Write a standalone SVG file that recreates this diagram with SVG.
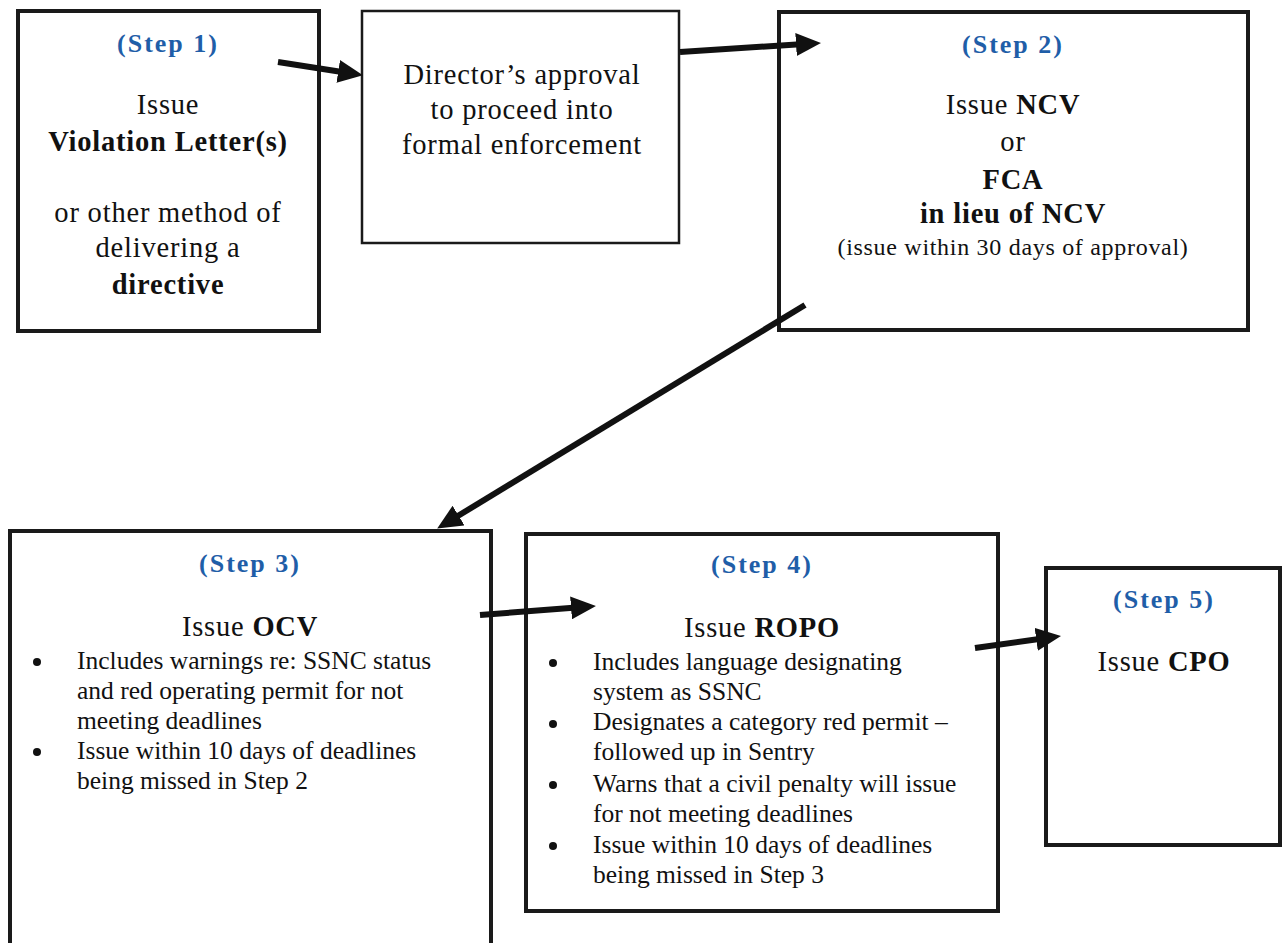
<svg xmlns="http://www.w3.org/2000/svg" width="1283" height="943" viewBox="0 0 1283 943">
<style>
.box{fill:#fff;stroke:#1a1a1a;stroke-width:4}
.thin{fill:#fff;stroke:#1a1a1a;stroke-width:2.5}
text{font-family:"Liberation Serif","Times New Roman",serif;fill:#111}
.step{font-size:26px;font-weight:bold;fill:#1f5ea8;letter-spacing:2px;text-anchor:middle}
.main{font-size:28.5px;letter-spacing:0.8px;text-anchor:middle}
.b{font-weight:bold}
.small{font-size:24px;letter-spacing:0.7px;text-anchor:middle}
.bul{font-size:25.5px}
.conn{stroke:#111;stroke-width:6;fill:none;marker-end:url(#ah)}
</style>
<defs>
<marker id="ah" markerUnits="userSpaceOnUse" markerWidth="25" markerHeight="23" refX="12" refY="11.5" orient="auto">
<path d="M0,0 L25,11.5 L0,23 z" fill="#111"/>
</marker>
</defs>
<rect width="1283" height="943" fill="#fff"/>
<g id="step1">
<rect class="box" x="18" y="11" width="301" height="320"/>
<text class="step" x="168" y="52">(Step 1)</text>
<text class="main" x="168" y="114">Issue</text>
<text class="main b" x="168" y="151">Violation Letter(s)</text>
<text class="main" x="168" y="222">or other method of</text>
<text class="main" x="168" y="257">delivering a</text>
<text class="main b" x="168" y="294">directive</text>
</g>
<g id="director">
<rect class="thin" x="362" y="11" width="317" height="232"/>
<text class="main" x="522" y="84">Director’s approval</text>
<text class="main" x="522" y="119">to proceed into</text>
<text class="main" x="522" y="154">formal enforcement</text>
</g>
<g id="step2">
<rect class="box" x="779" y="12" width="469" height="318"/>
<text class="step" x="1013" y="53">(Step 2)</text>
<text class="main" x="1013" y="114">Issue <tspan class="b">NCV</tspan></text>
<text class="main" x="1013" y="151">or</text>
<text class="main b" x="1013" y="189">FCA</text>
<text class="main b" x="1013" y="223">in lieu of NCV</text>
<text class="small" x="1013" y="255">(issue within 30 days of approval)</text>
</g>
<g id="step3">
<rect class="box" x="10" y="531" width="481" height="430"/>
<text class="step" x="250" y="572">(Step 3)</text>
<text class="main" x="250" y="636">Issue <tspan class="b">OCV</tspan></text>
<g class="bul">
<circle cx="37" cy="662" r="4" fill="#111"/>
<circle cx="37" cy="752" r="4" fill="#111"/>
<text x="77" y="669">Includes warnings re: SSNC status</text>
<text x="77" y="699">and red operating permit for not</text>
<text x="77" y="729">meeting deadlines</text>
<text x="77" y="759">Issue within 10 days of deadlines</text>
<text x="77" y="789">being missed in Step 2</text>
</g>
</g>
<g id="step4">
<rect class="box" x="526" y="534" width="472" height="377"/>
<text class="step" x="762" y="573">(Step 4)</text>
<text class="main" x="762" y="637">Issue <tspan class="b">ROPO</tspan></text>
<g class="bul">
<circle cx="553" cy="663" r="4" fill="#111"/>
<circle cx="553" cy="724" r="4" fill="#111"/>
<circle cx="553" cy="785" r="4" fill="#111"/>
<circle cx="553" cy="846" r="4" fill="#111"/>
<text x="593" y="670">Includes language designating</text>
<text x="593" y="700">system as SSNC</text>
<text x="593" y="730">Designates a category red permit –</text>
<text x="593" y="760">followed up in Sentry</text>
<text x="593" y="792">Warns that a civil penalty will issue</text>
<text x="593" y="822">for not meeting deadlines</text>
<text x="593" y="853">Issue within 10 days of deadlines</text>
<text x="593" y="883">being missed in Step 3</text>
</g>
</g>
<g id="step5">
<rect class="box" x="1046" y="568" width="234" height="277"/>
<text class="step" x="1164" y="608">(Step 5)</text>
<text class="main" x="1164" y="671">Issue <tspan class="b">CPO</tspan></text>
</g>
<g id="connectors">
<line class="conn" x1="278" y1="62" x2="350.1" y2="73.2"/>
<line class="conn" x1="680" y1="52" x2="808" y2="43.8"/>
<line class="conn" x1="805" y1="305" x2="448.3" y2="521.8"/>
<line class="conn" x1="480" y1="615" x2="583" y2="606.9"/>
<line class="conn" x1="975" y1="648" x2="1048.1" y2="637.7"/>
</g>
</svg>
